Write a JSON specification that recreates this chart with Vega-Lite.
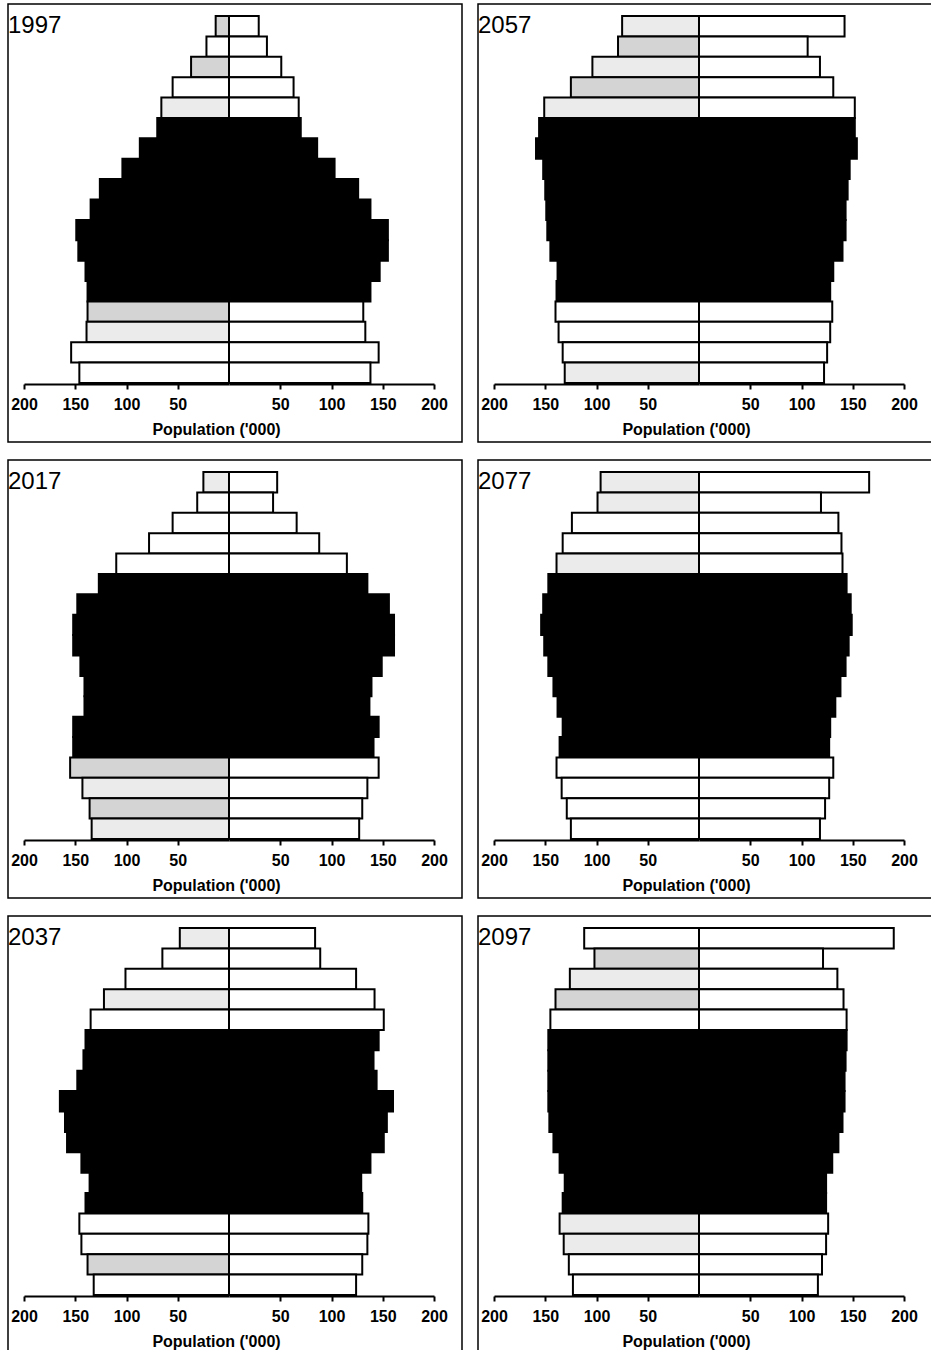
{
  "$schema": "https://vega.github.io/schema/vega-lite/v6.json",
  "background": "white",
  "padding": {"left": 7, "top": 3, "right": 0, "bottom": 0},
  "config": {
    "font": "Liberation Sans",
    "view": {"stroke": "black", "strokeWidth": 1.5, "fill": "white"}
  },
  "data": {
    "values": [
      {"year": 1997, "age": "85+", "sex": "Male", "pop": 13}, {"year": 1997, "age": "85+", "sex": "Female", "pop": 29},
      {"year": 1997, "age": "80-84", "sex": "Male", "pop": 22}, {"year": 1997, "age": "80-84", "sex": "Female", "pop": 37},
      {"year": 1997, "age": "75-79", "sex": "Male", "pop": 37}, {"year": 1997, "age": "75-79", "sex": "Female", "pop": 51},
      {"year": 1997, "age": "70-74", "sex": "Male", "pop": 55}, {"year": 1997, "age": "70-74", "sex": "Female", "pop": 63},
      {"year": 1997, "age": "65-69", "sex": "Male", "pop": 66}, {"year": 1997, "age": "65-69", "sex": "Female", "pop": 68},
      {"year": 1997, "age": "60-64", "sex": "Male", "pop": 70}, {"year": 1997, "age": "60-64", "sex": "Female", "pop": 70},
      {"year": 1997, "age": "55-59", "sex": "Male", "pop": 87}, {"year": 1997, "age": "55-59", "sex": "Female", "pop": 86},
      {"year": 1997, "age": "50-54", "sex": "Male", "pop": 104}, {"year": 1997, "age": "50-54", "sex": "Female", "pop": 103},
      {"year": 1997, "age": "45-49", "sex": "Male", "pop": 126}, {"year": 1997, "age": "45-49", "sex": "Female", "pop": 126},
      {"year": 1997, "age": "40-44", "sex": "Male", "pop": 135}, {"year": 1997, "age": "40-44", "sex": "Female", "pop": 138},
      {"year": 1997, "age": "35-39", "sex": "Male", "pop": 149}, {"year": 1997, "age": "35-39", "sex": "Female", "pop": 155},
      {"year": 1997, "age": "30-34", "sex": "Male", "pop": 147}, {"year": 1997, "age": "30-34", "sex": "Female", "pop": 155},
      {"year": 1997, "age": "25-29", "sex": "Male", "pop": 140}, {"year": 1997, "age": "25-29", "sex": "Female", "pop": 147},
      {"year": 1997, "age": "20-24", "sex": "Male", "pop": 138}, {"year": 1997, "age": "20-24", "sex": "Female", "pop": 138},
      {"year": 1997, "age": "15-19", "sex": "Male", "pop": 138}, {"year": 1997, "age": "15-19", "sex": "Female", "pop": 131},
      {"year": 1997, "age": "10-14", "sex": "Male", "pop": 139}, {"year": 1997, "age": "10-14", "sex": "Female", "pop": 133},
      {"year": 1997, "age": "5-9", "sex": "Male", "pop": 154}, {"year": 1997, "age": "5-9", "sex": "Female", "pop": 146},
      {"year": 1997, "age": "0-4", "sex": "Male", "pop": 146}, {"year": 1997, "age": "0-4", "sex": "Female", "pop": 138},

      {"year": 2057, "age": "85+", "sex": "Male", "pop": 75}, {"year": 2057, "age": "85+", "sex": "Female", "pop": 142},
      {"year": 2057, "age": "80-84", "sex": "Male", "pop": 79}, {"year": 2057, "age": "80-84", "sex": "Female", "pop": 106},
      {"year": 2057, "age": "75-79", "sex": "Male", "pop": 104}, {"year": 2057, "age": "75-79", "sex": "Female", "pop": 118},
      {"year": 2057, "age": "70-74", "sex": "Male", "pop": 125}, {"year": 2057, "age": "70-74", "sex": "Female", "pop": 131},
      {"year": 2057, "age": "65-69", "sex": "Male", "pop": 151}, {"year": 2057, "age": "65-69", "sex": "Female", "pop": 152},
      {"year": 2057, "age": "60-64", "sex": "Male", "pop": 156}, {"year": 2057, "age": "60-64", "sex": "Female", "pop": 152},
      {"year": 2057, "age": "55-59", "sex": "Male", "pop": 159}, {"year": 2057, "age": "55-59", "sex": "Female", "pop": 154},
      {"year": 2057, "age": "50-54", "sex": "Male", "pop": 152}, {"year": 2057, "age": "50-54", "sex": "Female", "pop": 147},
      {"year": 2057, "age": "45-49", "sex": "Male", "pop": 150}, {"year": 2057, "age": "45-49", "sex": "Female", "pop": 145},
      {"year": 2057, "age": "40-44", "sex": "Male", "pop": 149}, {"year": 2057, "age": "40-44", "sex": "Female", "pop": 143},
      {"year": 2057, "age": "35-39", "sex": "Male", "pop": 148}, {"year": 2057, "age": "35-39", "sex": "Female", "pop": 143},
      {"year": 2057, "age": "30-34", "sex": "Male", "pop": 145}, {"year": 2057, "age": "30-34", "sex": "Female", "pop": 140},
      {"year": 2057, "age": "25-29", "sex": "Male", "pop": 138}, {"year": 2057, "age": "25-29", "sex": "Female", "pop": 131},
      {"year": 2057, "age": "20-24", "sex": "Male", "pop": 139}, {"year": 2057, "age": "20-24", "sex": "Female", "pop": 128},
      {"year": 2057, "age": "15-19", "sex": "Male", "pop": 140}, {"year": 2057, "age": "15-19", "sex": "Female", "pop": 130},
      {"year": 2057, "age": "10-14", "sex": "Male", "pop": 137}, {"year": 2057, "age": "10-14", "sex": "Female", "pop": 128},
      {"year": 2057, "age": "5-9", "sex": "Male", "pop": 133}, {"year": 2057, "age": "5-9", "sex": "Female", "pop": 125},
      {"year": 2057, "age": "0-4", "sex": "Male", "pop": 131}, {"year": 2057, "age": "0-4", "sex": "Female", "pop": 122},

      {"year": 2017, "age": "85+", "sex": "Male", "pop": 25}, {"year": 2017, "age": "85+", "sex": "Female", "pop": 47},
      {"year": 2017, "age": "80-84", "sex": "Male", "pop": 31}, {"year": 2017, "age": "80-84", "sex": "Female", "pop": 43},
      {"year": 2017, "age": "75-79", "sex": "Male", "pop": 55}, {"year": 2017, "age": "75-79", "sex": "Female", "pop": 66},
      {"year": 2017, "age": "70-74", "sex": "Male", "pop": 78}, {"year": 2017, "age": "70-74", "sex": "Female", "pop": 88},
      {"year": 2017, "age": "65-69", "sex": "Male", "pop": 110}, {"year": 2017, "age": "65-69", "sex": "Female", "pop": 115},
      {"year": 2017, "age": "60-64", "sex": "Male", "pop": 127}, {"year": 2017, "age": "60-64", "sex": "Female", "pop": 135},
      {"year": 2017, "age": "55-59", "sex": "Male", "pop": 148}, {"year": 2017, "age": "55-59", "sex": "Female", "pop": 156},
      {"year": 2017, "age": "50-54", "sex": "Male", "pop": 152}, {"year": 2017, "age": "50-54", "sex": "Female", "pop": 161},
      {"year": 2017, "age": "45-49", "sex": "Male", "pop": 152}, {"year": 2017, "age": "45-49", "sex": "Female", "pop": 161},
      {"year": 2017, "age": "40-44", "sex": "Male", "pop": 145}, {"year": 2017, "age": "40-44", "sex": "Female", "pop": 149},
      {"year": 2017, "age": "35-39", "sex": "Male", "pop": 141}, {"year": 2017, "age": "35-39", "sex": "Female", "pop": 139},
      {"year": 2017, "age": "30-34", "sex": "Male", "pop": 141}, {"year": 2017, "age": "30-34", "sex": "Female", "pop": 137},
      {"year": 2017, "age": "25-29", "sex": "Male", "pop": 152}, {"year": 2017, "age": "25-29", "sex": "Female", "pop": 146},
      {"year": 2017, "age": "20-24", "sex": "Male", "pop": 152}, {"year": 2017, "age": "20-24", "sex": "Female", "pop": 141},
      {"year": 2017, "age": "15-19", "sex": "Male", "pop": 155}, {"year": 2017, "age": "15-19", "sex": "Female", "pop": 146},
      {"year": 2017, "age": "10-14", "sex": "Male", "pop": 143}, {"year": 2017, "age": "10-14", "sex": "Female", "pop": 135},
      {"year": 2017, "age": "5-9", "sex": "Male", "pop": 136}, {"year": 2017, "age": "5-9", "sex": "Female", "pop": 130},
      {"year": 2017, "age": "0-4", "sex": "Male", "pop": 134}, {"year": 2017, "age": "0-4", "sex": "Female", "pop": 127},

      {"year": 2077, "age": "85+", "sex": "Male", "pop": 96}, {"year": 2077, "age": "85+", "sex": "Female", "pop": 166},
      {"year": 2077, "age": "80-84", "sex": "Male", "pop": 99}, {"year": 2077, "age": "80-84", "sex": "Female", "pop": 119},
      {"year": 2077, "age": "75-79", "sex": "Male", "pop": 124}, {"year": 2077, "age": "75-79", "sex": "Female", "pop": 136},
      {"year": 2077, "age": "70-74", "sex": "Male", "pop": 133}, {"year": 2077, "age": "70-74", "sex": "Female", "pop": 139},
      {"year": 2077, "age": "65-69", "sex": "Male", "pop": 139}, {"year": 2077, "age": "65-69", "sex": "Female", "pop": 140},
      {"year": 2077, "age": "60-64", "sex": "Male", "pop": 147}, {"year": 2077, "age": "60-64", "sex": "Female", "pop": 144},
      {"year": 2077, "age": "55-59", "sex": "Male", "pop": 152}, {"year": 2077, "age": "55-59", "sex": "Female", "pop": 148},
      {"year": 2077, "age": "50-54", "sex": "Male", "pop": 154}, {"year": 2077, "age": "50-54", "sex": "Female", "pop": 149},
      {"year": 2077, "age": "45-49", "sex": "Male", "pop": 151}, {"year": 2077, "age": "45-49", "sex": "Female", "pop": 146},
      {"year": 2077, "age": "40-44", "sex": "Male", "pop": 147}, {"year": 2077, "age": "40-44", "sex": "Female", "pop": 143},
      {"year": 2077, "age": "35-39", "sex": "Male", "pop": 142}, {"year": 2077, "age": "35-39", "sex": "Female", "pop": 138},
      {"year": 2077, "age": "30-34", "sex": "Male", "pop": 138}, {"year": 2077, "age": "30-34", "sex": "Female", "pop": 133},
      {"year": 2077, "age": "25-29", "sex": "Male", "pop": 133}, {"year": 2077, "age": "25-29", "sex": "Female", "pop": 128},
      {"year": 2077, "age": "20-24", "sex": "Male", "pop": 136}, {"year": 2077, "age": "20-24", "sex": "Female", "pop": 127},
      {"year": 2077, "age": "15-19", "sex": "Male", "pop": 139}, {"year": 2077, "age": "15-19", "sex": "Female", "pop": 131},
      {"year": 2077, "age": "10-14", "sex": "Male", "pop": 134}, {"year": 2077, "age": "10-14", "sex": "Female", "pop": 127},
      {"year": 2077, "age": "5-9", "sex": "Male", "pop": 129}, {"year": 2077, "age": "5-9", "sex": "Female", "pop": 123},
      {"year": 2077, "age": "0-4", "sex": "Male", "pop": 125}, {"year": 2077, "age": "0-4", "sex": "Female", "pop": 118},

      {"year": 2037, "age": "85+", "sex": "Male", "pop": 48}, {"year": 2037, "age": "85+", "sex": "Female", "pop": 84},
      {"year": 2037, "age": "80-84", "sex": "Male", "pop": 65}, {"year": 2037, "age": "80-84", "sex": "Female", "pop": 89},
      {"year": 2037, "age": "75-79", "sex": "Male", "pop": 101}, {"year": 2037, "age": "75-79", "sex": "Female", "pop": 124},
      {"year": 2037, "age": "70-74", "sex": "Male", "pop": 122}, {"year": 2037, "age": "70-74", "sex": "Female", "pop": 142},
      {"year": 2037, "age": "65-69", "sex": "Male", "pop": 135}, {"year": 2037, "age": "65-69", "sex": "Female", "pop": 151},
      {"year": 2037, "age": "60-64", "sex": "Male", "pop": 140}, {"year": 2037, "age": "60-64", "sex": "Female", "pop": 146},
      {"year": 2037, "age": "55-59", "sex": "Male", "pop": 142}, {"year": 2037, "age": "55-59", "sex": "Female", "pop": 141},
      {"year": 2037, "age": "50-54", "sex": "Male", "pop": 148}, {"year": 2037, "age": "50-54", "sex": "Female", "pop": 144},
      {"year": 2037, "age": "45-49", "sex": "Male", "pop": 165}, {"year": 2037, "age": "45-49", "sex": "Female", "pop": 160},
      {"year": 2037, "age": "40-44", "sex": "Male", "pop": 160}, {"year": 2037, "age": "40-44", "sex": "Female", "pop": 154},
      {"year": 2037, "age": "35-39", "sex": "Male", "pop": 158}, {"year": 2037, "age": "35-39", "sex": "Female", "pop": 151},
      {"year": 2037, "age": "30-34", "sex": "Male", "pop": 144}, {"year": 2037, "age": "30-34", "sex": "Female", "pop": 138},
      {"year": 2037, "age": "25-29", "sex": "Male", "pop": 136}, {"year": 2037, "age": "25-29", "sex": "Female", "pop": 129},
      {"year": 2037, "age": "20-24", "sex": "Male", "pop": 140}, {"year": 2037, "age": "20-24", "sex": "Female", "pop": 130},
      {"year": 2037, "age": "15-19", "sex": "Male", "pop": 146}, {"year": 2037, "age": "15-19", "sex": "Female", "pop": 136},
      {"year": 2037, "age": "10-14", "sex": "Male", "pop": 144}, {"year": 2037, "age": "10-14", "sex": "Female", "pop": 135},
      {"year": 2037, "age": "5-9", "sex": "Male", "pop": 138}, {"year": 2037, "age": "5-9", "sex": "Female", "pop": 130},
      {"year": 2037, "age": "0-4", "sex": "Male", "pop": 132}, {"year": 2037, "age": "0-4", "sex": "Female", "pop": 124},

      {"year": 2097, "age": "85+", "sex": "Male", "pop": 112}, {"year": 2097, "age": "85+", "sex": "Female", "pop": 190},
      {"year": 2097, "age": "80-84", "sex": "Male", "pop": 102}, {"year": 2097, "age": "80-84", "sex": "Female", "pop": 121},
      {"year": 2097, "age": "75-79", "sex": "Male", "pop": 126}, {"year": 2097, "age": "75-79", "sex": "Female", "pop": 135},
      {"year": 2097, "age": "70-74", "sex": "Male", "pop": 140}, {"year": 2097, "age": "70-74", "sex": "Female", "pop": 141},
      {"year": 2097, "age": "65-69", "sex": "Male", "pop": 145}, {"year": 2097, "age": "65-69", "sex": "Female", "pop": 144},
      {"year": 2097, "age": "60-64", "sex": "Male", "pop": 147}, {"year": 2097, "age": "60-64", "sex": "Female", "pop": 144},
      {"year": 2097, "age": "55-59", "sex": "Male", "pop": 147}, {"year": 2097, "age": "55-59", "sex": "Female", "pop": 143},
      {"year": 2097, "age": "50-54", "sex": "Male", "pop": 147}, {"year": 2097, "age": "50-54", "sex": "Female", "pop": 142},
      {"year": 2097, "age": "45-49", "sex": "Male", "pop": 147}, {"year": 2097, "age": "45-49", "sex": "Female", "pop": 142},
      {"year": 2097, "age": "40-44", "sex": "Male", "pop": 146}, {"year": 2097, "age": "40-44", "sex": "Female", "pop": 140},
      {"year": 2097, "age": "35-39", "sex": "Male", "pop": 142}, {"year": 2097, "age": "35-39", "sex": "Female", "pop": 136},
      {"year": 2097, "age": "30-34", "sex": "Male", "pop": 136}, {"year": 2097, "age": "30-34", "sex": "Female", "pop": 130},
      {"year": 2097, "age": "25-29", "sex": "Male", "pop": 131}, {"year": 2097, "age": "25-29", "sex": "Female", "pop": 124},
      {"year": 2097, "age": "20-24", "sex": "Male", "pop": 133}, {"year": 2097, "age": "20-24", "sex": "Female", "pop": 124},
      {"year": 2097, "age": "15-19", "sex": "Male", "pop": 136}, {"year": 2097, "age": "15-19", "sex": "Female", "pop": 126},
      {"year": 2097, "age": "10-14", "sex": "Male", "pop": 132}, {"year": 2097, "age": "10-14", "sex": "Female", "pop": 124},
      {"year": 2097, "age": "5-9", "sex": "Male", "pop": 127}, {"year": 2097, "age": "5-9", "sex": "Female", "pop": 120},
      {"year": 2097, "age": "0-4", "sex": "Male", "pop": 123}, {"year": 2097, "age": "0-4", "sex": "Female", "pop": 116}
    ]
  },
  "facet": {
    "field": "year",
    "type": "ordinal",
    "sort": [1997, 2057, 2017, 2077, 2037, 2097],
    "header": {
      "title": null,
      "labelOrient": "top",
      "labelAnchor": "start",
      "labelAlign": "left",
      "labelBaseline": "top",
      "labelPadding": -34,
      "labelFontSize": 24,
      "labelFont": "Liberation Sans",
      "labelColor": "black"
    }
  },
  "columns": 2,
  "spacing": {"row": 16, "column": 14},
  "resolve": {"scale": {"x": "independent"}},
  "spec": {
    "width": 454,
    "height": 438,
    "layer": [
      {
        "transform": [{"filter": "datum.sex == 'Male'"}],
        "mark": {"type": "bar", "stroke": "black", "strokeWidth": 2},
        "encoding": {
          "y": {
            "field": "age", "type": "ordinal",
            "sort": ["85+", "80-84", "75-79", "70-74", "65-69", "60-64", "55-59", "50-54", "45-49", "40-44", "35-39", "30-34", "25-29", "20-24", "15-19", "10-14", "5-9", "0-4"],
            "scale": {"range": [12, 379], "paddingInner": 0, "paddingOuter": 0},
            "axis": null
          },
          "x": {
            "field": "pop", "type": "quantitative",
            "scale": {"domain": [0, 200], "range": [221, 16]},
            "axis": {
              "orient": "bottom", "values": [50, 100, 150, 200], "offset": -58, "title": null,
              "grid": false, "labelFlush": false, "labelOverlap": false,
              "domainColor": "black", "domainWidth": 2, "tickColor": "black", "tickWidth": 2, "tickSize": 5,
              "labelFontSize": 16, "labelFontWeight": "bold", "labelColor": "black", "labelPadding": 7
            }
          },
          "fill": {
            "condition": [
              {"test": "indexof(['20-24','25-29','30-34','35-39','40-44','45-49','50-54','55-59','60-64'], datum.age) >= 0", "value": "black"},
              {"test": "indexof(['1997 85+','1997 75-79','1997 15-19','2057 80-84','2057 70-74','2017 15-19','2017 5-9','2037 5-9','2097 80-84','2097 70-74'], datum.year + ' ' + datum.age) >= 0", "value": "#d4d4d4"},
              {"test": "indexof(['1997 65-69','1997 10-14','2057 85+','2057 75-79','2057 65-69','2057 0-4','2017 85+','2017 10-14','2017 0-4','2077 85+','2077 80-84','2077 65-69','2037 85+','2037 70-74','2097 75-79','2097 15-19','2097 10-14'], datum.year + ' ' + datum.age) >= 0", "value": "#ebebeb"}
            ],
            "value": "white"
          }
        }
      },
      {
        "transform": [{"filter": "datum.sex == 'Female'"}],
        "mark": {"type": "bar", "stroke": "black", "strokeWidth": 2},
        "encoding": {
          "y": {
            "field": "age", "type": "ordinal",
            "sort": ["85+", "80-84", "75-79", "70-74", "65-69", "60-64", "55-59", "50-54", "45-49", "40-44", "35-39", "30-34", "25-29", "20-24", "15-19", "10-14", "5-9", "0-4"],
            "scale": {"range": [12, 379], "paddingInner": 0, "paddingOuter": 0},
            "axis": null
          },
          "x": {
            "field": "pop", "type": "quantitative",
            "scale": {"domain": [0, 200], "range": [221, 426]},
            "axis": {
              "orient": "bottom", "values": [50, 100, 150, 200], "offset": -58,
              "title": "Population ('000)", "titleFontSize": 16, "titleFontWeight": "bold", "titleColor": "black",
              "titleX": 208, "titleY": 50, "titleAlign": "center", "titleBaseline": "alphabetic",
              "grid": false, "labelFlush": false, "labelOverlap": false,
              "domainColor": "black", "domainWidth": 2, "tickColor": "black", "tickWidth": 2, "tickSize": 5,
              "labelFontSize": 16, "labelFontWeight": "bold", "labelColor": "black", "labelPadding": 7
            }
          },
          "fill": {
            "condition": {"test": "indexof(['20-24','25-29','30-34','35-39','40-44','45-49','50-54','55-59','60-64'], datum.age) >= 0", "value": "black"},
            "value": "white"
          }
        }
      }
    ],
    "resolve": {"scale": {"x": "independent"}}
  }
}
